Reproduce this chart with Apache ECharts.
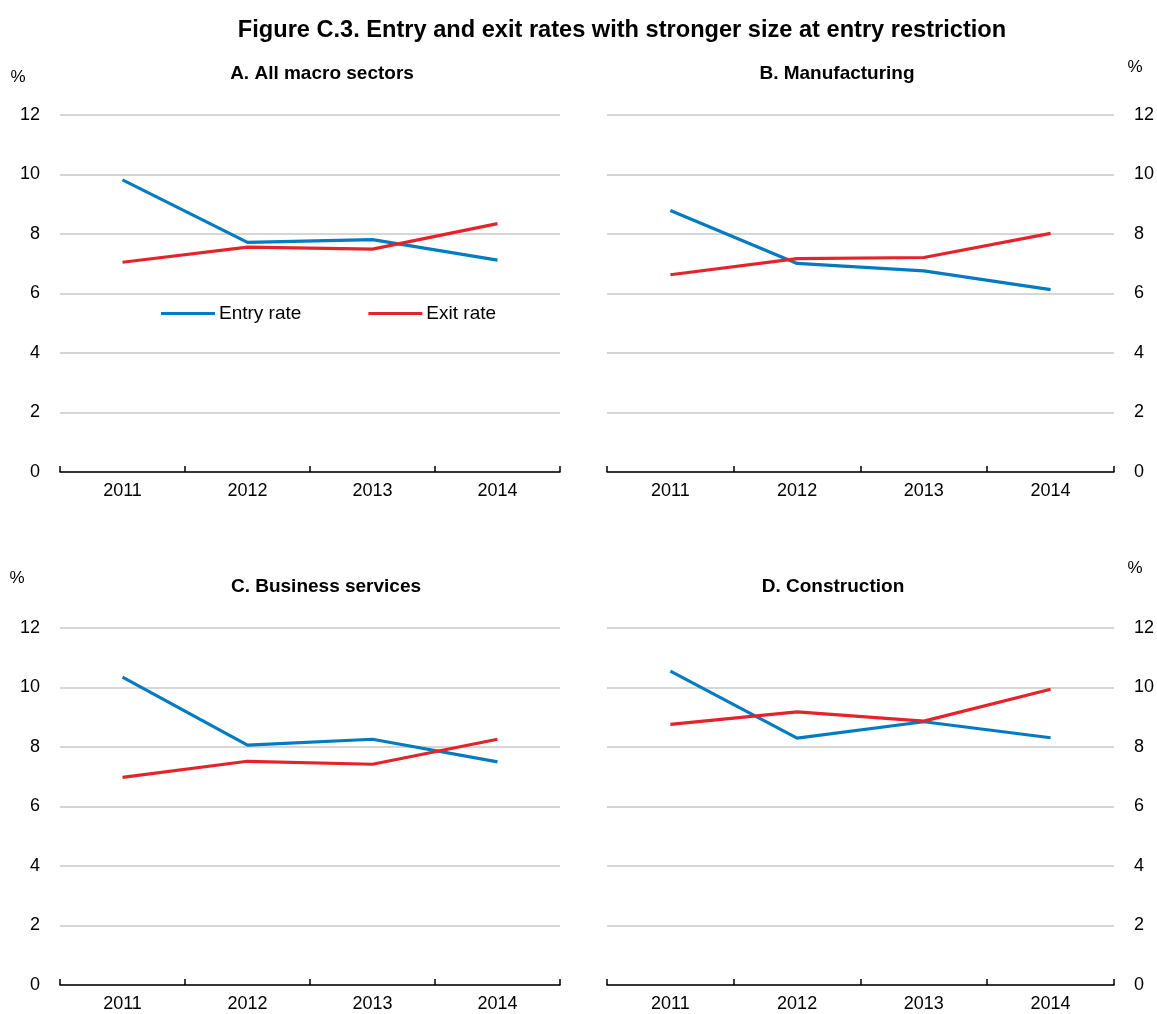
<!DOCTYPE html>
<html>
<head>
<meta charset="utf-8">
<script src="https://cdn.jsdelivr.net/npm/echarts@6/dist/echarts.min.js"></script>
<style>
html,body{margin:0;padding:0;background:#fff;}
#chart{width:1157px;height:1014px;}
</style>
</head>
<body>
<div id="chart"></div>
<script>
// ---- data ----
const years = ['2011', '2012', '2013', '2014'];
const yTicks = [0, 2, 4, 6, 8, 10, 12];
const seriesNames = ['Entry rate', 'Exit rate'];
const panelTitles = ['A. All macro sectors', 'B. Manufacturing', 'C. Business services', 'D. Construction'];
const entryA = [9.82, 7.72, 7.81, 7.12];
const exitA  = [7.05, 7.56, 7.49, 8.35];
const entryB = [8.79, 7.01, 6.76, 6.13];
const exitB  = [6.63, 7.17, 7.21, 8.02];
const entryC = [10.35, 8.06, 8.26, 7.50];
const exitC  = [6.98, 7.52, 7.42, 8.26];
const entryD = [10.55, 8.30, 8.85, 8.31];
const exitD  = [8.76, 9.18, 8.87, 9.94];
const mainTitle = 'Figure C.3. Entry and exit rates with stronger size at entry restriction';

// ---- styling ----
const NARROW = '"Liberation Sans Narrow", "Arial Narrow", "Liberation Sans", Arial, sans-serif';
const SANS = '"Liberation Sans", Arial, sans-serif';
const BLUE = '#037BC1';
const RED = '#E3242B';
const GRID = '#C8C8C8';

const grids = [
  {left: 60, top: 115, width: 500, height: 357},
  {left: 607, top: 115, width: 510, height: 357},
  {left: 60, top: 628, width: 500, height: 357},
  {left: 607, top: 628, width: 510, height: 357}
];
const panelData = [[entryA, exitA], [entryB, exitB], [entryC, exitC], [entryD, exitD]];
const subTitlePos = [[317, 59], [832, 59], [321, 572], [828, 572]];
const pctPos = [[18, 77, 'left'], [1135, 67, 'right'], [17, 578, 'left'], [1135, 568, 'right']];

const xAxes = grids.map((g, i) => ({
  type: 'category', gridIndex: i, data: years, boundaryGap: true,
  axisLine: {show: true, lineStyle: {color: '#000', width: 1.5}},
  axisTick: {show: true, inside: true, length: 6, lineStyle: {color: '#000', width: 1.5}},
  axisLabel: {color: '#000', fontFamily: NARROW, fontSize: 18, margin: 10},
  splitLine: {show: false}
}));
const yAxes = grids.map((g, i) => ({
  type: 'value', gridIndex: i, min: 0, max: 12, interval: 2,
  position: (i % 2 === 0) ? 'left' : 'right',
  axisLine: {show: false}, axisTick: {show: false},
  axisLabel: {color: '#000', fontFamily: NARROW, fontSize: 18, margin: 20,
    formatter: v => yTicks.includes(v) ? String(v) : ''},
  splitLine: {show: true, lineStyle: {color: GRID, width: 1.5}}
}));
const series = [];
panelData.forEach((pair, i) => {
  pair.forEach((vals, k) => {
    series.push({
      name: seriesNames[k], type: 'line', xAxisIndex: i, yAxisIndex: i,
      data: vals, symbol: 'none', smooth: false,
      lineStyle: {color: k === 0 ? BLUE : RED, width: 3.2},
      itemStyle: {color: k === 0 ? BLUE : RED},
      z: k === 0 ? 3 : 4,
      silent: true, animation: false
    });
  });
});
const titles = [{
  text: mainTitle, left: 617, top: 13, textAlign: 'center',
  textStyle: {fontFamily: SANS, fontWeight: 'bold', fontSize: 23.6, color: '#000'}
}].concat(panelTitles.map((t, i) => ({
  text: t, left: subTitlePos[i][0], top: subTitlePos[i][1], textAlign: 'center',
  textStyle: {fontFamily: NARROW, fontWeight: 'bold', fontSize: 19, color: '#000'}
})));
const graphics = pctPos.map(p => ({
  type: 'text', x: p[0], y: p[1],
  style: {text: '%', fill: '#000', font: '17px ' + NARROW, textAlign: 'center', textVerticalAlign: 'middle'}
}));

const chart = echarts.init(document.getElementById('chart'), null, {renderer: 'canvas'});
chart.setOption({
  animation: false,
  backgroundColor: '#fff',
  title: titles,
  grid: grids,
  xAxis: xAxes,
  yAxis: yAxes,
  legend: {
    data: seriesNames, left: 156, top: 299, icon: 'rect', itemWidth: 54, itemHeight: 3,
    itemGap: 67, textStyle: {fontFamily: NARROW, fontSize: 19, color: '#000', padding: [0, 0, 0, -1]},
    selectedMode: false
  },
  graphic: graphics,
  series: series
});
</script>
</body>
</html>
